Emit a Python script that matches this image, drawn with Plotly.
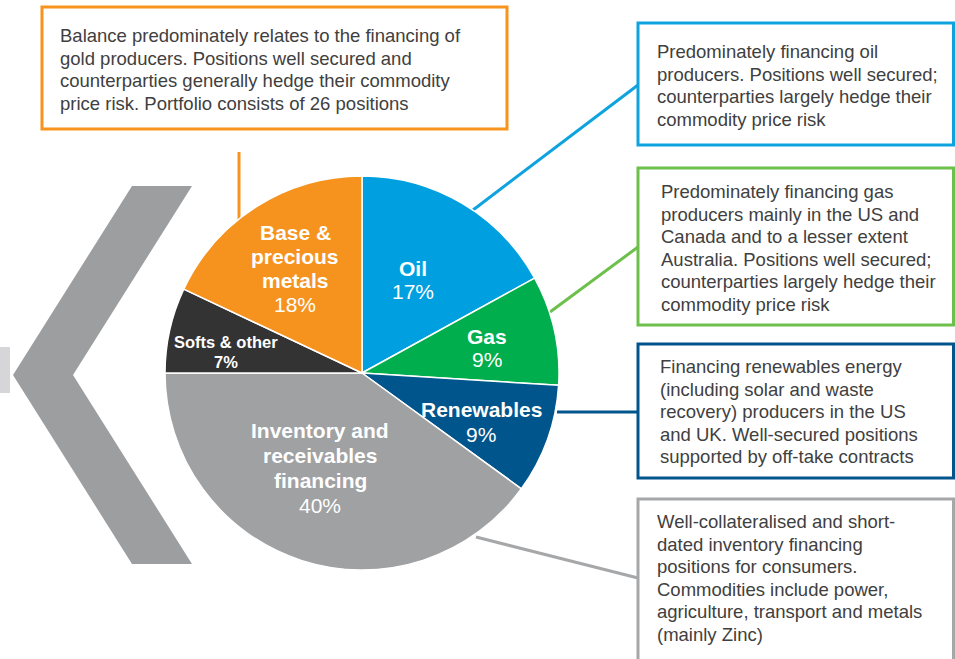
import plotly.graph_objects as go

W, H = 955, 659

# Portfolio split by sector (percent of balance)
sectors = ["Oil", "Gas", "Renewables", "Inventory and receivables financing",
           "Softs & other", "Base & precious metals"]
shares = [17, 9, 9, 40, 7, 18]
sector_colors = ["#00A0E0", "#00AE4D", "#00558C", "#A0A1A3", "#333333", "#F6931F"]
label_lines = [["Oil"], ["Gas"], ["Renewables"],
               ["Inventory and", "receivables", "financing"],
               ["Softs & other"], ["Base &", "precious", "metals"]]

# Commentary boxes
note_base = ["Balance predominately relates to the financing of",
             "gold producers. Positions well secured and",
             "counterparties generally hedge their commodity",
             "price risk. Portfolio consists of 26 positions"]
note_oil = ["Predominately financing oil",
            "producers. Positions well secured;",
            "counterparties largely hedge their",
            "commodity price risk"]
note_gas = ["Predominately financing gas",
            "producers mainly in the US and",
            "Canada and to a lesser extent",
            "Australia. Positions well secured;",
            "counterparties largely hedge their",
            "commodity price risk"]
note_renew = ["Financing renewables energy",
              "(including solar and waste",
              "recovery) producers in the US",
              "and UK. Well-secured positions",
              "supported by off-take contracts"]
note_inv = ["Well-collateralised and short-",
            "dated inventory financing",
            "positions for consumers.",
            "Commodities include power,",
            "agriculture, transport and metals",
            "(mainly Zinc)"]


def px(x):
    return x / W


def py(y):
    return 1 - y / H


FONT = "Liberation Sans, Arial, sans-serif"

# Pie placement: centre (362, 373), radius 197 px
cx, cy, r = 362, 373, 197
fig = go.Figure(go.Pie(
    labels=sectors, values=shares, sort=False, direction="clockwise",
    rotation=0, marker=dict(colors=sector_colors, line=dict(color="white", width=1.5)),
    textinfo="none", hoverinfo="label+percent", showlegend=False,
    domain=dict(x=[px(cx - r), px(cx + r)], y=[py(cy + r), py(cy - r)]),
))

shapes = []
annotations = []

# Grey chevron on the left
chev = [(132, 186), (192, 186), (73, 375), (192, 564), (132, 564), (13, 375)]
path = "M " + " L ".join(f"{px(x)},{py(y)}" for x, y in chev) + " Z"
shapes.append(dict(type="path", path=path, xref="paper", yref="paper",
                   fillcolor="#9D9EA0", line=dict(width=0), layer="below"))
shapes.append(dict(type="rect", xref="paper", yref="paper",
                   x0=px(0), x1=px(10), y0=py(393), y1=py(347),
                   fillcolor="#D6D6D8", line=dict(width=0), layer="below"))

# Boxes: (lines, border colour, box px, text left, first line y)
boxes = [
    (note_base, "#F7941D", (42, 7, 507, 129), 58, 35.5),
    (note_oil, "#0EA3DF", (638, 23, 953.5, 145), 655, 51.7),
    (note_gas, "#6DC04B", (638, 168, 953.5, 325), 659, 191.7),
    (note_renew, "#00558C", (638, 344, 953.5, 478), 658, 366.7),
    (note_inv, "#A6A7A9", (638, 499, 953.5, 680), 655, 521.7),
]
LINE_GAP = 22.5
for lines, col, (x0, y0, x1, y1), tx, ty in boxes:
    shapes.append(dict(type="rect", xref="paper", yref="paper",
                       x0=px(x0), x1=px(x1), y0=py(y1), y1=py(y0),
                       fillcolor="white", line=dict(color=col, width=3)))
    for i, ln in enumerate(lines):
        annotations.append(dict(
            x=px(tx), y=py(ty + i * LINE_GAP), xref="paper", yref="paper",
            text=ln, showarrow=False, xanchor="left", yanchor="middle",
            font=dict(family=FONT, size=18.5, color="#404040")))

# Connector lines from slices to boxes
connectors = [
    ((239, 152), (239, 220), "#F7941D"),
    ((473, 210), (638, 85), "#0EA3DF"),
    ((550, 312), (638, 247), "#6DC04B"),
    ((557, 412), (638, 412), "#00558C"),
    ((476, 537), (638, 578), "#A6A7A9"),
]
for (xa, ya), (xb, yb), col in connectors:
    shapes.append(dict(type="line", xref="paper", yref="paper",
                       x0=px(xa), y0=py(ya), x1=px(xb), y1=py(yb),
                       line=dict(color=col, width=3), layer="below"))

# In-slice labels: (x centre, first line y, line gap, font size)
label_pos = [
    (413, 268, 24, 21),
    (487, 336, 24, 21),
    (481, 409, 25, 21),
    (320, 430, 25, 21),
    (226, 342, 20, 16.5),
    (295, 232, 24.3, 21),
]
for name_lines, share, (lx, ly, gap, fs) in zip(label_lines, shares, label_pos):
    texts = [f"<b>{t}</b>" for t in name_lines]
    pct = f"{share}%"
    texts.append(f"<b>{pct}</b>" if fs < 18 else pct)
    for i, t in enumerate(texts):
        annotations.append(dict(
            x=px(lx), y=py(ly + i * gap), xref="paper", yref="paper",
            text=t, showarrow=False, xanchor="center", yanchor="middle",
            font=dict(family=FONT, size=fs, color="white")))

fig.update_layout(
    width=W, height=H, margin=dict(l=0, r=0, t=0, b=0),
    paper_bgcolor="white", plot_bgcolor="white",
    shapes=shapes, annotations=annotations,
)

fig.write_html("out.html")
